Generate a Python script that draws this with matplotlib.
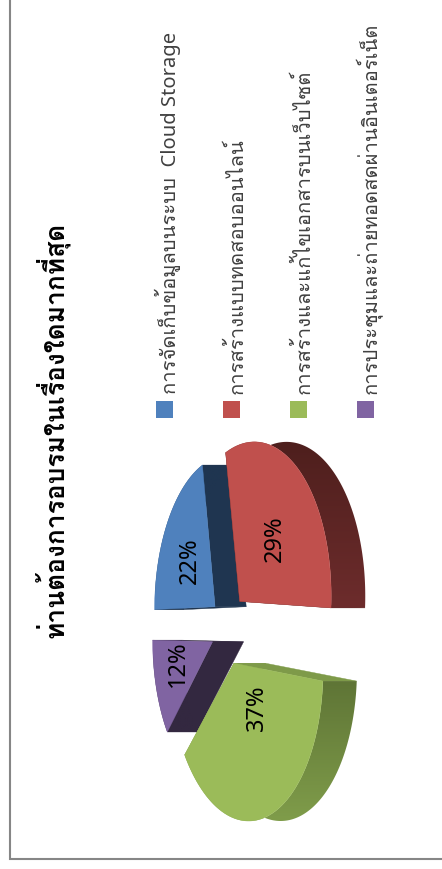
import numpy as np
import matplotlib
matplotlib.use('Agg')
import matplotlib.pyplot as plt
from matplotlib.patches import Polygon, Rectangle
from matplotlib.colors import to_rgb

plt.rcParams['font.family'] = ['Noto Sans', 'Loma']

title = 'ท่านต้องการอบรมในเรื่องใดมากที่สุด'
categories = ['การจัดเก็บข้อมูลบนระบบ  Cloud Storage',
              'การสร้างแบบทดสอบออนไลน์',
              'การสร้างและแก้ไขเอกสารบนเว็บไซต์',
              'การประชุมและถ่ายทอดสดผ่านอินเตอร์เน็ต']
values = [22, 29, 37, 12]
face_colors = ['#4f81bd', '#c0504d', '#9bbb59', '#8064a2']
wall_back = ['#1f3550', '#4e1f1d', '#5f7536', '#332840']
wall_front = ['#1f3550', '#6d2c2c', '#7f9c4a', '#332840']
cut_colors = ['#1f3550', '#4e1f1d', '#7e9a49', '#332840']
label_radius = [0.50, 0.52, 0.36, 0.46]
label_nudge = [(0, -3), (7, 3), (14, -11), (-7, -2)]

W, H = 442, 870
fig = plt.figure(figsize=(W / 100, H / 100), dpi=100)
ax = fig.add_axes([0, 0, 1, 1])
ax.set_xlim(0, W)
ax.set_ylim(H, 0)
ax.axis('off')

# frame of the rotated chart area
ax.plot([10, 10, W], [0, 860, 860], color='#868686', lw=1.5, solid_joinstyle='miter')

# pseudo-3D pie (page turned 90 degrees anticlockwise)
D, S, TILT, DEPTH, EXPL = 6.5, 153.0, 0.48, 31.5, 0.235
CX, CY = 228.0, 630.0

def project(theta, r, h, mid):
    X = EXPL * np.sin(mid) + r * np.sin(theta)
    Y = EXPL * np.cos(mid) + r * np.cos(theta)
    s = D / (D + Y)
    return CX - Y * TILT * S * s + h * DEPTH * s ** 0.4, CY - X * S * s

fractions = np.array(values) / np.sum(values)
edges = np.concatenate([[0], np.cumsum(fractions)]) * 2 * np.pi
slices = list(range(len(values)))
mids = [(edges[i] + edges[i + 1]) / 2 for i in slices]
order = sorted(slices, key=lambda i: -np.cos(mids[i]))

for rank, i in enumerate(order):
    a0, a1, mid = edges[i], edges[i + 1], mids[i]
    z = 10 * (rank + 1)
    th = np.linspace(a0, a1, 120)
    # radial cut walls
    for a in (a0, a1):
        pts = [project(a, 0, 0, mid), project(a, 1, 0, mid),
               project(a, 1, 1, mid), project(a, 0, 1, mid)]
        ax.add_patch(Polygon(pts, closed=True, facecolor=cut_colors[i],
                             edgecolor=cut_colors[i], lw=0.3, zorder=z))
    # outer wall: vertical gradient clipped to its outline
    tx, ty = project(th, 1, 0, mid)
    bx, by = project(th, 1, 1, mid)
    outline = np.column_stack([np.r_[tx, bx[::-1]], np.r_[ty, by[::-1]]])
    c0, c1 = np.array(to_rgb(wall_back[i])), np.array(to_rgb(wall_front[i]))
    ramp = np.linspace(0, 1, 64)[:, None, None]
    img = c0[None, None, :] + (c1 - c0)[None, None, :] * ramp
    im = ax.imshow(img, extent=(outline[:, 0].min(), outline[:, 0].max(),
                                outline[:, 1].max(), outline[:, 1].min()),
                   origin='upper', aspect='auto', interpolation='bilinear', zorder=z + 1)
    clip = Polygon(outline, closed=True, transform=ax.transData, facecolor='none', edgecolor='none')
    ax.add_patch(clip)
    im.set_clip_path(clip)
    # top face
    cx0, cy0 = project(a0, 0, 0, mid)
    ax.add_patch(Polygon(np.column_stack([np.r_[cx0, tx], np.r_[cy0, ty]]), closed=True,
                         facecolor=face_colors[i], edgecolor=face_colors[i], lw=0.3, zorder=z + 2))
    # percentage label
    lx, ly = project(mid, label_radius[i], 0, mid)
    ax.text(lx + label_nudge[i][0], ly + label_nudge[i][1], f'{values[i]}%', rotation=90,
            ha='center', va='center', fontsize=17, color='black', zorder=100)
ax.set_xlim(0, W)
ax.set_ylim(H, 0)

# legend
base_x = [176, 243, 310, 377]
for name, col, bx in zip(categories, face_colors, base_x):
    ax.add_patch(Rectangle((bx - 20, 402), 16.5, 16.5, facecolor=col, edgecolor='none'))
    ax.text(bx, 394, name, rotation=90, rotation_mode='anchor', ha='left', va='baseline',
            fontsize=14.5, color='#404040')

# title
ax.text(64, 638, title, rotation=90, rotation_mode='anchor', ha='left', va='baseline',
        fontsize=19, fontweight='bold', color='black')

fig.savefig('out.png', dpi=100)
